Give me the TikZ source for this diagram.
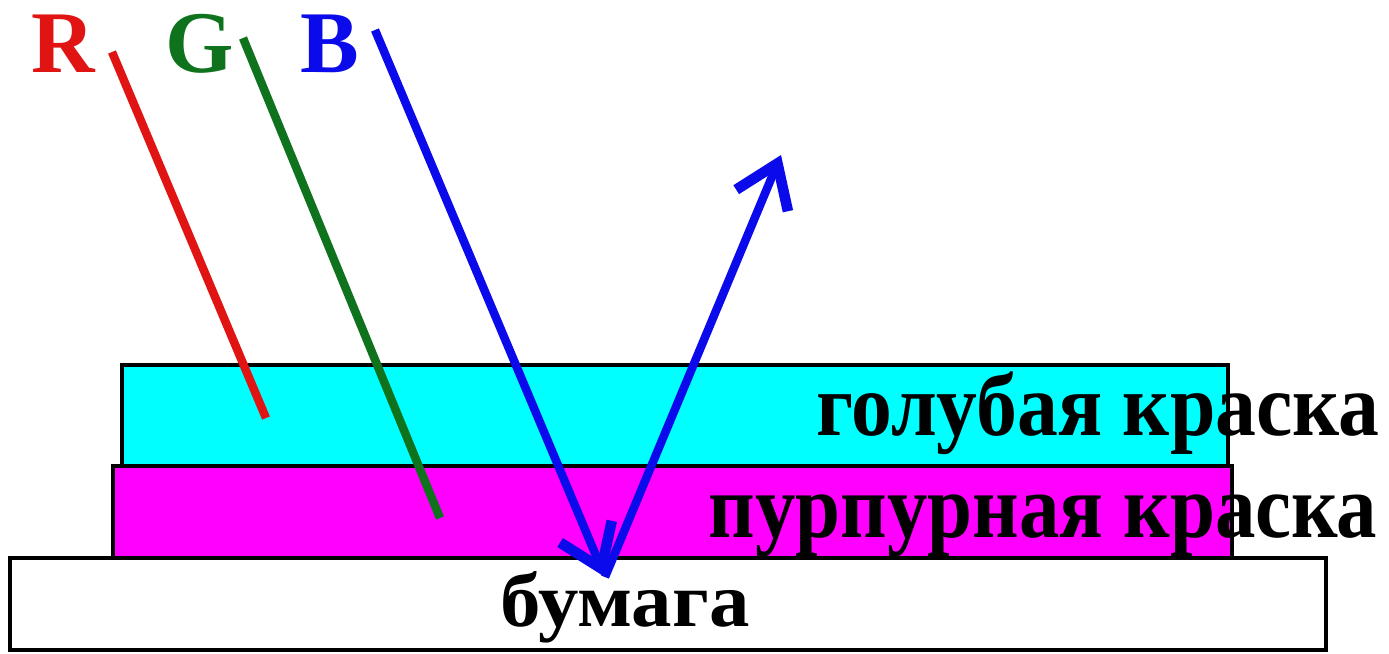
\documentclass[tikz,border=0pt]{standalone}
\usepackage{fontspec}
\setmainfont{Liberation Serif}
\usetikzlibrary{arrows.meta}
\definecolor{rcol}{RGB}{225,20,20}
\definecolor{gcol}{RGB}{15,115,30}
\definecolor{bcol}{RGB}{10,10,235}
\definecolor{cyanink}{RGB}{0,255,255}
\definecolor{magink}{RGB}{255,0,255}
\tikzset{
  layer/.style={draw=black, line width=0.9pt},
  label/.style={inner sep=0pt, font=\fontsize{23}{26}\selectfont\bfseries},
  rgblabel/.style={inner sep=0pt, font=\fontsize{25}{28}\selectfont\bfseries},
  ray/.style={line width=2.4pt},
  rayarrow/.style={ray, -{Straight Barb[length=0.4cm,width=0.56cm,line width=3pt]}}
}
\begin{document}
\begin{tikzpicture}[x=0.01cm,y=-0.01cm]
\useasboundingbox (0,0) rectangle (1389,653);
% layers
\draw[layer, fill=white] (10,558) rectangle (1326,650);
\draw[layer, fill=magink] (113,466) rectangle (1232,558);
\draw[layer, fill=cyanink] (122,365) rectangle (1228,466);
% texts
\node[label, anchor=base east] (cyantext) at (1380,435) {\scalebox{1.01}[1.1]{голубая краска}};
\node[label, anchor=base east] (magtext) at (1378,537) {\scalebox{1}[1.12]{пурпурная краска}};
\node[label, anchor=base west] (papertext) at (500,626) {\scalebox{1}[0.95]{бумага}};
\node[rgblabel, text=rcol, anchor=base west] (R) at (31,72) {R};
\node[rgblabel, text=gcol, anchor=base west] (G) at (165,72) {G};
\node[rgblabel, text=bcol, anchor=base west] (B) at (300,72) {B};
% ray coordinates
\coordinate (r1) at (112,52);
\coordinate (r2) at (266,418);
\coordinate (g1) at (243,38);
\coordinate (g2) at (440,518);
\coordinate (b1) at (375,30);
\coordinate (b2) at (605,577);
\coordinate (b3) at (781,155);
% rays
\draw[ray, rcol] (r1) -- (r2);
\draw[ray, gcol] (g1) -- (g2);
\draw[rayarrow, bcol] (b1) -- (b2);
\draw[rayarrow, bcol] (b2) -- (b3);
\end{tikzpicture}
\end{document}
